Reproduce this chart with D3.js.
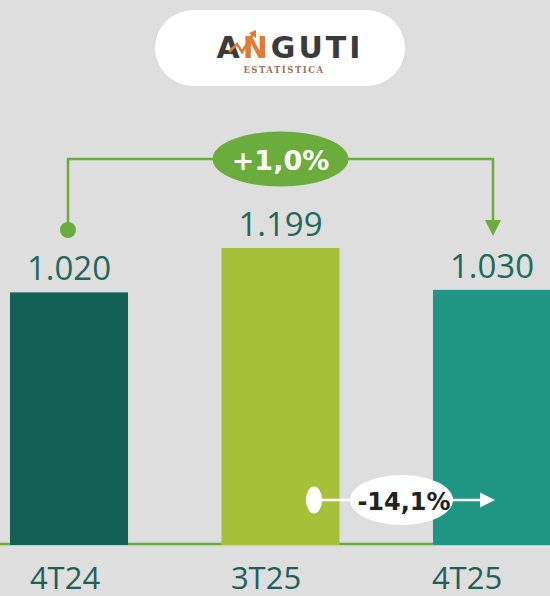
<!DOCTYPE html>
<html lang="pt">
<head>
<meta charset="utf-8">
<title>Anguti</title>
<script src="https://d3js.org/d3.v7.min.js"></script>
<style>
html, body { margin: 0; padding: 0; background: #dedede; }
svg { display: block; }
text { font-family: "Open Sans", sans-serif; }
</style>
</head>
<body>
<svg></svg>
<script>
var periods = ['4T24', '3T25', '4T25'];
var values = [1020, 1199, 1030];
var valueLabels = ['1.020', '1.199', '1.030'];
var barColors = ['#136154', '#a7c03a', '#1e9683'];
var yoyLabel = '+1,0%';
var qoqLabel = '-14,1%';

var W = 550, H = 596;
var svg = d3.select('svg').attr('width', W).attr('height', H);

svg.append('rect')
  .attr('width', W).attr('height', H)
  .attr('fill', '#dedede');

var x = d3.scaleBand()
  .domain(periods)
  .range([10, 551])
  .paddingInner(0.442)
  .paddingOuter(0);

// category labels sit a bit left of the bar centres
var xLabel = d3.scalePoint()
  .domain(periods)
  .range([65, 467]);

var y = d3.scaleLinear()
  .domain([0, d3.max(values)])
  .range([545, 248]);

// logo
var logo = svg.append('g');
logo.append('rect')
  .attr('x', 155).attr('y', 10)
  .attr('width', 250).attr('height', 76)
  .attr('rx', 38)
  .attr('fill', '#fefefe');
var brand = logo.append('text')
  .attr('x', 290).attr('y', 58)
  .attr('text-anchor', 'middle')
  .style('font-family', '"DejaVu Sans", sans-serif')
  .style('font-size', '30px')
  .style('font-weight', 'bold')
  .style('letter-spacing', '3px')
  .attr('fill', '#3b3b3b');
brand.append('tspan').text('A');
brand.append('tspan').attr('fill', '#e47a2c').text('N');
brand.append('tspan').text('GUTI');
logo.append('path')
  .attr('d', 'M229,52 L237,44 L242,52 L253,34')
  .attr('fill', 'none')
  .attr('stroke', '#e47a2c')
  .attr('stroke-width', 2.5);
logo.append('path')
  .attr('d', 'M249,33 L256,30 L256,38 Z')
  .attr('fill', '#e47a2c');
logo.append('text')
  .attr('x', 284).attr('y', 73)
  .attr('text-anchor', 'middle')
  .style('font-family', '"DejaVu Serif", serif')
  .style('font-size', '8.5px')
  .style('font-weight', 'bold')
  .style('letter-spacing', '1.5px')
  .attr('fill', '#9a7455')
  .text('ESTATÍSTICA');

// baseline
svg.append('line')
  .attr('x1', 0).attr('x2', W)
  .attr('y1', y(0) - 1).attr('y2', y(0) - 1)
  .attr('stroke', '#6aad3d')
  .attr('stroke-width', 2.5);

// bars
svg.selectAll('.bar')
  .data(values)
  .join('rect')
  .attr('class', 'bar')
  .attr('x', (d, i) => x(periods[i]))
  .attr('y', d => y(d))
  .attr('width', x.bandwidth())
  .attr('height', d => y(0) - y(d))
  .attr('fill', (d, i) => barColors[i]);

svg.selectAll('.val')
  .data(values)
  .join('text')
  .attr('class', 'val')
  .attr('x', (d, i) => x(periods[i]) + x.bandwidth() / 2)
  .attr('y', d => y(d) - 12)
  .attr('text-anchor', 'middle')
  .style('font-size', '33px')
  .attr('fill', '#1c6a5b')
  .text((d, i) => valueLabels[i]);

svg.selectAll('.cat')
  .data(periods)
  .join('text')
  .attr('class', 'cat')
  .attr('x', d => xLabel(d))
  .attr('y', 589)
  .attr('text-anchor', 'middle')
  .style('font-size', '31px')
  .attr('fill', '#1c6158')
  .text(d => d);

// year-on-year bracket
var green = '#6aad3d';
var xa = x(periods[0]) + x.bandwidth() / 2 - 1;
var xb = x(periods[2]) + x.bandwidth() / 2 + 1;
var yBracket = 159;
svg.append('path')
  .attr('d', `M${xa},230 V${yBracket} H${xb} V222`)
  .attr('fill', 'none')
  .attr('stroke', green)
  .attr('stroke-width', 2.5);
svg.append('circle')
  .attr('cx', xa).attr('cy', 230).attr('r', 8)
  .attr('fill', green);
svg.append('path')
  .attr('d', `M${xb - 8},220 L${xb + 8},220 L${xb},236 Z`)
  .attr('fill', green);
svg.append('ellipse')
  .attr('cx', 280.5).attr('cy', yBracket)
  .attr('rx', 68).attr('ry', 27.5)
  .attr('fill', green);
svg.append('text')
  .attr('x', 280.5).attr('y', 170)
  .attr('text-anchor', 'middle')
  .style('font-family', '"DejaVu Sans", sans-serif')
  .style('font-size', '27px')
  .style('font-weight', 'bold')
  .attr('fill', '#ffffff')
  .text(yoyLabel);

// quarter-on-quarter arrow
var ay = 500;
svg.append('line')
  .attr('x1', 314).attr('x2', 482)
  .attr('y1', ay).attr('y2', ay)
  .attr('stroke', '#ffffff')
  .attr('stroke-width', 2.5);
svg.append('ellipse')
  .attr('cx', 314).attr('cy', ay)
  .attr('rx', 8).attr('ry', 13.5)
  .attr('fill', '#ffffff');
svg.append('path')
  .attr('d', `M480,${ay - 7.5} L495,${ay} L480,${ay + 7.5} Z`)
  .attr('fill', '#ffffff');
svg.append('ellipse')
  .attr('cx', 401.5).attr('cy', ay)
  .attr('rx', 51.5).attr('ry', 25)
  .attr('fill', '#ffffff');
svg.append('text')
  .attr('x', 404).attr('y', 510)
  .attr('text-anchor', 'middle')
  .style('font-family', '"DejaVu Sans", sans-serif')
  .style('font-size', '24px')
  .style('font-weight', 'bold')
  .attr('fill', '#222222')
  .text(qoqLabel);
</script>
</body>
</html>
